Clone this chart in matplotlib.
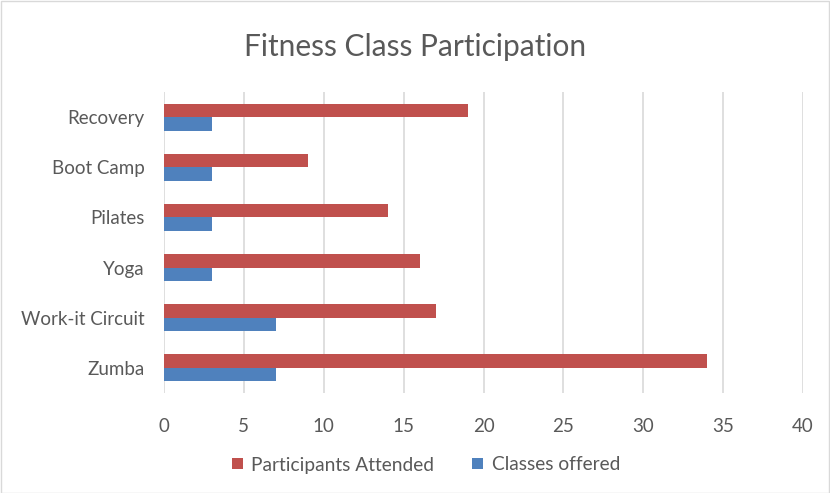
import matplotlib
matplotlib.use("Agg")
import matplotlib.pyplot as plt
import numpy as np
from matplotlib.patches import Rectangle

categories = ["Zumba", "Work-it Circuit", "Yoga", "Pilates", "Boot Camp", "Recovery"]
participants = [34, 17, 16, 14, 9, 19]
classes = [7, 7, 3, 3, 3, 3]
xticks = [0, 5, 10, 15, 20, 25, 30, 35, 40]

plt.rcParams['font.family'] = ['Lato', 'DejaVu Sans']
txt = '#595959'

fig = plt.figure(figsize=(8.3, 4.93), dpi=100)
ax = fig.add_axes([164/830, 1-393/493, (803-164)/830, (393-92)/493])

y = np.arange(len(categories))
h = 0.27
ax.barh(y + h/2, participants, height=h, color='#C0504D', label='Participants Attended', zorder=3)
ax.barh(y - h/2, classes, height=h, color='#4F81BD', label='Classes offered', zorder=3)

ax.set_xlim(0, 40)
ax.set_ylim(-0.5, len(categories) - 0.5)
ax.set_xticks(xticks)
ax.set_yticks(y)
ax.set_yticklabels(categories)
ax.tick_params(axis='both', length=0, labelsize=13.5, colors=txt)
ax.tick_params(axis='x', pad=18)
ax.tick_params(axis='y', pad=14)
ax.grid(axis='x', color='#D9D9D9', linewidth=1.2, zorder=0)
for s in ax.spines.values():
    s.set_visible(False)

fig.text(0.5, 1-47/493, "Fitness Class Participation", ha='center', va='center', fontsize=21.5, color=txt)

leg = fig.legend(loc='center', bbox_to_anchor=(426/830, 1-465/493), ncol=2, frameon=False,
                 fontsize=13.8, handlelength=0.55, handleheight=0.55, columnspacing=2.0, handletextpad=0.45)
for t in leg.get_texts():
    t.set_color(txt)

fig.patches.append(Rectangle((0.5/830, 0.5/493), 1-1.5/830, 1-1.5/493, transform=fig.transFigure,
                             fill=False, edgecolor='#D9D9D9', linewidth=1))

fig.savefig('out.png', dpi=100)
